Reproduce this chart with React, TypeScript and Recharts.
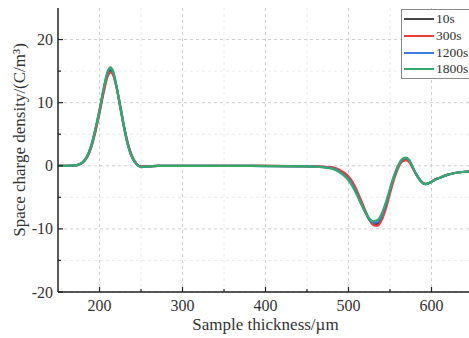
import React from "react";
import {
  LineChart,
  Line,
  XAxis,
  YAxis,
  CartesianGrid,
  Legend,
} from "recharts";

// sample positions across the thickness (µm)
const thickness = [
  150, 160, 170, 175, 180, 185, 190, 195, 200, 205, 210, 213, 216, 220, 225,
  230, 235, 240, 245, 250, 260, 270, 300, 350, 400, 440, 460, 470, 480, 485,
  490, 495, 500, 505, 510, 515, 520, 525, 530, 535, 540, 545, 550, 555, 560,
  565, 569, 573, 577, 582, 587, 593, 598, 603, 610, 620, 630, 640, 650,
];

const rho10s = [
  0, 0, 0.04, 0.18, 0.55, 1.4, 3.0, 5.6, 8.6, 11.9, 14.5, 15.1, 14.7, 12.8,
  9.4, 5.9, 3.0, 1.2, 0.25, -0.15, -0.1, 0, 0, 0, 0, -0.05, -0.1, -0.18, -0.3,
  -0.5, -0.8, -1.3, -1.9, -2.9, -4.2, -5.7, -7.2, -8.5, -9.2, -9.2, -8.2, -6.4,
  -4.0, -1.8, -0.1, 0.9, 1.1, 0.8, -0.2, -1.45, -2.4, -2.9, -2.7, -2.3, -1.9,
  -1.4, -1.1, -0.95, -0.9,
];

const rho300s = [
  0, 0, 0.03, 0.15, 0.5, 1.3, 2.9, 5.3, 8.3, 11.6, 14.2, 14.8, 14.5, 12.7, 9.5,
  6.0, 3.2, 1.3, 0.3, -0.1, -0.1, 0, 0, 0, 0, -0.05, -0.1, -0.15, -0.25, -0.4,
  -0.7, -1.1, -1.7, -2.6, -3.9, -5.4, -7.0, -8.5, -9.4, -9.5, -8.6, -6.8, -4.4,
  -2.1, -0.3, 0.7, 0.85, 0.6, -0.3, -1.5, -2.4, -2.9, -2.7, -2.3, -1.9, -1.4,
  -1.1, -0.95, -0.9,
];

const rho1200s = [
  0, 0, 0.05, 0.2, 0.6, 1.5, 3.2, 5.8, 8.8, 12.2, 14.9, 15.4, 15.0, 12.9, 9.3,
  5.8, 2.9, 1.1, 0.2, -0.2, -0.1, 0, 0, 0, -0.05, -0.1, -0.15, -0.22, -0.4,
  -0.6, -1.0, -1.5, -2.1, -3.1, -4.4, -5.9, -7.3, -8.5, -9.0, -8.9, -7.9, -6.1,
  -3.8, -1.6, 0.05, 1.0, 1.2, 0.9, -0.15, -1.4, -2.4, -2.9, -2.7, -2.3, -1.9,
  -1.4, -1.1, -0.95, -0.9,
];

const rho1800s = [
  0, 0, 0.05, 0.2, 0.6, 1.5, 3.2, 5.8, 8.9, 12.3, 15.0, 15.6, 15.1, 12.9, 9.3,
  5.7, 2.9, 1.1, 0.2, -0.2, -0.1, 0, 0, 0, -0.05, -0.1, -0.15, -0.25, -0.45,
  -0.7, -1.1, -1.6, -2.3, -3.3, -4.6, -6.0, -7.3, -8.3, -8.8, -8.6, -7.6, -5.8,
  -3.6, -1.5, 0.1, 1.1, 1.3, 0.9, -0.1, -1.4, -2.4, -2.9, -2.7, -2.3, -1.9,
  -1.4, -1.1, -0.95, -0.9,
];

const xMajor = [200, 300, 400, 500, 600];
const xMinor = [250, 350, 450, 550];
const yMajor = [-20, -10, 0, 10, 20];
const yMinor = [-15, -5, 5, 15];

const series = [
  { key: "t10", name: "10s", color: "#454545" },
  { key: "t300", name: "300s", color: "#ee3b3b" },
  { key: "t1200", name: "1200s", color: "#3a7de0" },
  { key: "t1800", name: "1800s", color: "#35a86a" },
];

const data = thickness.map((x, i) => ({
  x,
  t10: rho10s[i],
  t300: rho300s[i],
  t1200: rho1200s[i],
  t1800: rho1800s[i],
}));

const FONT = '"Liberation Serif", "Times New Roman", serif';
const AXIS = "#222";

const xTicks = [...xMajor, ...xMinor].sort((a, b) => a - b);
const yTicks = [...yMajor, ...yMinor].sort((a, b) => a - b);

// ticks point into the plot; majors get labels
const BottomTick = (props: any) => {
  const { x, y, payload } = props;
  const major = xMajor.includes(payload.value);
  return (
    <g>
      <line x1={x} x2={x} y1={y} y2={y - (major ? 5 : 3)} stroke={AXIS} strokeWidth={1.2} />
      {major && (
        <text x={x} y={y + 19} textAnchor="middle" fontSize={16} fontFamily={FONT} fill="#333">
          {payload.value}
        </text>
      )}
    </g>
  );
};

const TopTick = (props: any) => {
  const { x, y, payload } = props;
  const major = xMajor.includes(payload.value);
  return <line x1={x} x2={x} y1={y} y2={y + (major ? 5 : 3)} stroke={AXIS} strokeWidth={1.2} />;
};

const LeftTick = (props: any) => {
  const { x, y, payload } = props;
  const major = yMajor.includes(payload.value);
  return (
    <g>
      <line x1={x} x2={x + (major ? 5 : 3)} y1={y} y2={y} stroke={AXIS} strokeWidth={1.2} />
      {major && (
        <text x={x - 5} y={y + 5.5} textAnchor="end" fontSize={16} fontFamily={FONT} fill="#333">
          {payload.value}
        </text>
      )}
    </g>
  );
};

const RightTick = (props: any) => {
  const { x, y, payload } = props;
  const major = yMajor.includes(payload.value);
  return <line x1={x} x2={x - (major ? 5 : 3)} y1={y} y2={y} stroke={AXIS} strokeWidth={1.2} />;
};

const LegendBox = () => (
  <div
    style={{
      border: "1px solid #8a8a8a",
      background: "#fff",
      padding: "1px 0 0 0",
      width: 80,
    }}
  >
    {series.map((s) => (
      <div
        key={s.key}
        style={{ display: "flex", alignItems: "center", height: 16.7 }}
      >
        <span
          style={{
            display: "inline-block",
            width: 30,
            height: 2,
            marginLeft: 2,
            background: s.color,
          }}
        />
        <span
          style={{
            marginLeft: 2,
            fontFamily: FONT,
            fontSize: 13.5,
            color: "#333",
            lineHeight: "16px",
          }}
        >
          {s.name}
        </span>
      </div>
    ))}
  </div>
);

const App: React.FC = () => {
  return (
    <div
      style={{
        position: "fixed",
        left: 0,
        top: 0,
        width: 469,
        height: 338,
        overflow: "hidden",
        background: "#fff",
      }}
    >
      <LineChart
        width={478}
        height={338}
        data={data}
        margin={{ top: 8, right: 5, bottom: 0, left: 0 }}
      >
        <CartesianGrid
          stroke="#ececec"
          strokeDasharray="3 3"
          verticalValues={xMinor}
          horizontalValues={yMinor}
        />
        <CartesianGrid
          stroke="#cfcfcf"
          strokeDasharray="3 3"
          verticalValues={xMajor}
          horizontalValues={yMajor}
        />
        <XAxis
          dataKey="x"
          type="number"
          domain={[150, 650]}
          ticks={xTicks}
          interval={0}
          allowDataOverflow
          height={46}
          tickSize={0}
          tickMargin={0}
          tickLine={false}
          tick={<BottomTick />}
          axisLine={{ stroke: AXIS, strokeWidth: 1.5 }}
          label={{
            content: (p: any) => {
              const vb = p.viewBox;
              return (
                <text
                  x={vb.x + vb.width / 2}
                  y={vb.y + 38}
                  textAnchor="middle"
                  fontSize={17}
                  fontFamily={FONT}
                  fill="#333"
                >
                  Sample thickness/µm
                </text>
              );
            },
          }}
        />
        <XAxis
          xAxisId="top"
          orientation="top"
          dataKey="x"
          type="number"
          domain={[150, 650]}
          ticks={xTicks}
          interval={0}
          allowDataOverflow
          height={0}
          tickSize={0}
          tickMargin={0}
          tickLine={false}
          tick={<TopTick />}
          axisLine={{ stroke: AXIS, strokeWidth: 1.5 }}
        />
        <YAxis
          type="number"
          domain={[-20, 25]}
          ticks={yTicks}
          interval={0}
          allowDataOverflow
          width={58}
          tickSize={0}
          tickMargin={0}
          tickLine={false}
          tick={<LeftTick />}
          axisLine={{ stroke: AXIS, strokeWidth: 1.5 }}
          label={{
            content: (p: any) => {
              const vb = p.viewBox;
              const cx = 19;
              const cy = vb.y + vb.height / 2 - 10;
              return (
                <text
                  x={cx}
                  y={cy}
                  transform={`rotate(-90, ${cx}, ${cy})`}
                  textAnchor="middle"
                  dominantBaseline="central"
                  fontSize={17}
                  fontFamily={FONT}
                  fill="#333"
                >
                  Space charge density/(C/m³)
                </text>
              );
            },
          }}
        />
        <YAxis
          yAxisId="right"
          orientation="right"
          type="number"
          domain={[-20, 25]}
          ticks={yTicks}
          interval={0}
          allowDataOverflow
          width={0}
          tickSize={0}
          tickMargin={0}
          tickLine={false}
          tick={<RightTick />}
          axisLine={{ stroke: AXIS, strokeWidth: 1.5 }}
        />
        <Legend
          layout="horizontal"
          verticalAlign="middle"
          align="center"
          content={() => <LegendBox />}
          wrapperStyle={{ left: 401, top: 9, width: 82 }}
        />
        {series.map((s) => (
          <Line
            key={s.key}
            type="monotone"
            dataKey={s.key}
            name={s.name}
            stroke={s.color}
            strokeWidth={2.2}
            dot={false}
            isAnimationActive={false}
          />
        ))}
      </LineChart>
    </div>
  );
};

export default App;
